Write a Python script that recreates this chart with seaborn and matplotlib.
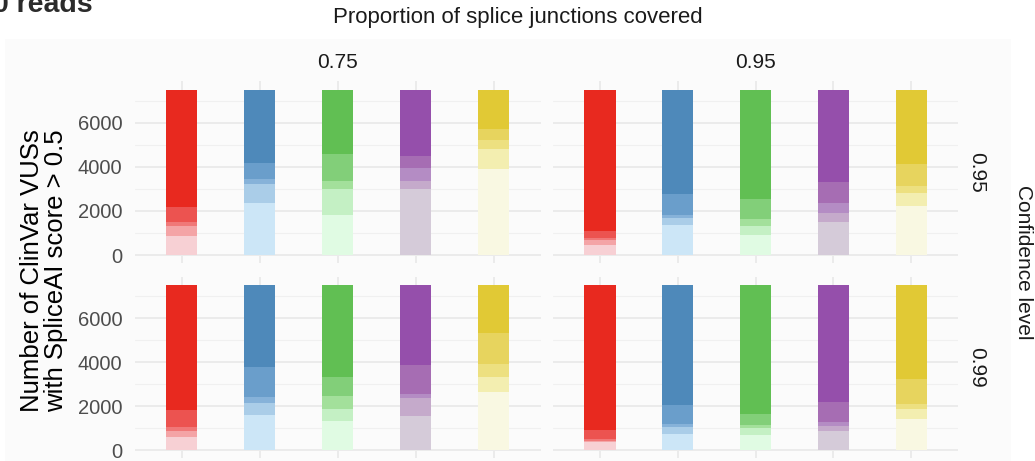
import numpy as np
import matplotlib
matplotlib.use("Agg")
import matplotlib.pyplot as plt
import seaborn as sns
from matplotlib.patches import Rectangle

# ---- data -------------------------------------------------------------
groups = ["Group 1", "Group 2", "Group 3", "Group 4", "Group 5"]
coverage_levels = ["0.75", "0.95"]
confidence_levels = ["0.95", "0.99"]
y_ticks = [0, 2000, 4000, 6000]

# variant counts per bar, from the lightest (bottom) band to the darkest (top) band
counts_cov075_conf095 = [
    [862, 453, 182, 680, 5323],
    [2358, 862, 213, 726, 3341],
    [1828, 1179, 363, 1210, 2920],
    [3007, 363, 590, 530, 3010],
    [3914, 907, 394, 485, 1800],
]
counts_cov095_conf095 = [
    [454, 211, 121, 318, 6396],
    [1361, 332, 121, 952, 4734],
    [921, 409, 303, 922, 4945],
    [1497, 421, 425, 968, 4189],
    [2222, 590, 317, 998, 3373],
]
counts_cov075_conf099 = [
    [607, 259, 182, 774, 5678],
    [1595, 531, 303, 1338, 3733],
    [1335, 533, 592, 866, 4174],
    [1563, 820, 168, 1321, 3628],
    [2628, 712, 578, 1427, 2155],
]
counts_cov095_conf099 = [
    [351, 79, 71, 410, 6589],
    [743, 320, 122, 879, 5436],
    [683, 319, 137, 501, 5860],
    [852, 241, 196, 911, 5300],
    [1412, 470, 214, 1125, 4279],
]

# shades for each group, lightest to darkest
shades = [
    ["#F7D0D4", "#F4A4A6", "#F07878", "#EC5350", "#E8291F"],
    ["#CCE6F7", "#AACDE8", "#86B2D9", "#6A9ECB", "#4E89BA"],
    ["#E0FBE3", "#C4F0C4", "#A3E09B", "#82CF79", "#61BF53"],
    ["#D5CBD9", "#C5AACB", "#B48CC4", "#A66DB3", "#954FAB"],
    ["#F9F8E2", "#F3EEB0", "#EDE080", "#E7D45E", "#E1C935"],
]

panels = {
    (0, 0): counts_cov075_conf095,
    (0, 1): counts_cov095_conf095,
    (1, 0): counts_cov075_conf099,
    (1, 1): counts_cov095_conf099,
}

# ---- figure -----------------------------------------------------------
W, H = 1035, 461
sns.set_theme(style="white")
plt.rcParams["font.family"] = ["Liberation Sans", "DejaVu Sans"]

fig = plt.figure(figsize=(W / 100, H / 100), dpi=100)
fig.patch.set_facecolor("white")
fig.patches.append(Rectangle((5 / W, 0), (1011 - 5) / W, 1 - 39 / H,
                             transform=fig.transFigure, facecolor="#FBFBFB",
                             edgecolor="none", zorder=-5))

col_left = [135.0, 553.3]
col_width = [405.5, 404.7]
row_top = [81.4, 277.0]
row_height = [181.9, 181.3]

tick_color = "#4D4D4D"
text_color = "#1A1A1A"

for (r, c), counts in panels.items():
    ax = fig.add_axes([col_left[c] / W, 1 - (row_top[r] + row_height[r]) / H,
                       col_width[c] / W, row_height[r] / H])
    ax.set_facecolor("none")
    cum = np.cumsum(np.array(counts), axis=1)
    # tallest cumulative layer first, lighter layers drawn over it
    for level in range(4, -1, -1):
        sns.barplot(x=groups, y=cum[:, level], hue=groups, order=groups,
                    hue_order=groups,
                    palette=[shades[g][level] for g in range(len(groups))],
                    width=0.4, saturation=1, errorbar=None, legend=False,
                    linewidth=0, ax=ax)
    ax.set_xlim(-0.6, 4.6)
    ax.set_ylim(-375, 7875)
    ax.set_yticks(y_ticks)
    ax.set_yticks([1000, 3000, 5000, 7000], minor=True)
    ax.set_axisbelow(True)
    ax.grid(True, which="major", axis="both", color="#EBEBEB", linewidth=1.4)
    ax.grid(True, which="minor", axis="y", color="#F0F0F0", linewidth=0.8)
    ax.set_xticklabels([])
    ax.set_xlabel("")
    ax.set_ylabel("")
    for s in ax.spines.values():
        s.set_visible(False)
    ax.tick_params(axis="both", which="both", length=0, pad=9,
                   labelsize=14.5, labelcolor=tick_color)
    if c == 1:
        ax.set_yticklabels([])

# facet strips
for c, lab in enumerate(coverage_levels):
    fig.text((col_left[c] + col_width[c] / 2) / W, 1 - 62 / H, lab,
             ha="center", va="center", fontsize=15, color=text_color)
for r, lab in enumerate(confidence_levels):
    fig.text(977 / W, 1 - (row_top[r] + row_height[r] / 2) / H, lab,
             ha="center", va="center", rotation=-90, fontsize=15,
             color=text_color)

# axis titles
fig.text(518 / W, 1 - 17 / H, "Proportion of splice junctions covered",
         ha="center", va="center", fontsize=16, color=text_color)
fig.text(1023 / W, 1 - 262 / H, "Confidence level", ha="center", va="center",
         rotation=-90, fontsize=15, color=text_color)
fig.text(44 / W, 1 - 271 / H, "Number of ClinVar VUSs\nwith SpliceAI score > 0.5",
         ha="center", va="center", rotation=90, fontsize=18.5,
         linespacing=1.0, color="black")

# plot title
fig.text(-7 / W, 1 - 12 / H, "0 reads", ha="left", va="baseline",
         fontsize=20.5, fontweight="bold", color="#2B2B2B")

fig.savefig("out.png", dpi=100)
